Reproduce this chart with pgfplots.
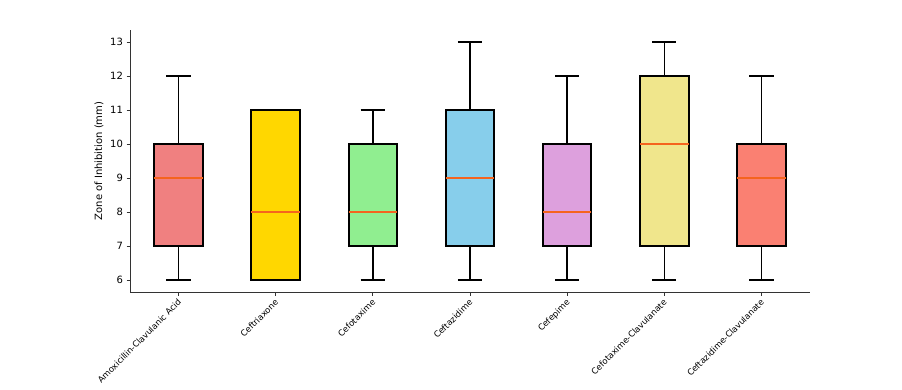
\documentclass[border=0pt]{standalone}
\usepackage{pgfplots}
\pgfplotsset{compat=1.18}
\usepgfplotslibrary{statistics}
\usepackage{fontspec}
\setmainfont{DejaVu Sans}
\definecolor{c1}{HTML}{F08080}
\definecolor{c2}{HTML}{FFD700}
\definecolor{c3}{HTML}{90EE90}
\definecolor{c4}{HTML}{87CEEB}
\definecolor{c5}{HTML}{DDA0DD}
\definecolor{c6}{HTML}{F0E68C}
\definecolor{c7}{HTML}{FA8072}
\definecolor{med}{HTML}{F5641E}
\begin{document}
\begin{tikzpicture}
\path[use as bounding box] (0pt,0pt) rectangle (902pt,389pt);
\begin{axis}[
  at={(130pt,97pt)}, anchor=south west,
  scale only axis, width=680pt, height=262pt,
  xmin=0.5, xmax=7.5, ymin=5.65, ymax=13.35,
  axis x line*=bottom, axis y line*=left,
  axis line style={black!80, line width=0.8pt},
  tick align=outside, major tick length=3.5pt,
  tick style={black!80, line width=0.8pt},
  xtick={1,2,3,4,5,6,7},
  xticklabels={Amoxicillin-Clavulanic Acid,Ceftriaxone,Cefotaxime,Ceftazidime,Cefepime,Cefotaxime-Clavulanate,Ceftazidime-Clavulanate},
  xticklabel style={rotate=45, anchor=north east, font=\fontsize{8.5}{10}\selectfont, inner sep=1pt, xshift=-2pt},
  ytick={6,7,8,9,10,11,12,13},
  yticklabel style={font=\fontsize{10}{12}\selectfont},
  /pgf/number format/assume math mode=true,
  ylabel={Zone of Inhibition (mm)},
  ylabel style={font=\fontsize{10}{12}\selectfont},
  boxplot/draw direction=y,
  boxplot/every median/.style={draw=med, line width=1.1pt},
  boxplot/every whisker/.style={line width=1.5pt},
  boxplot/every box/.style={line width=1.9pt},
]
\addplot[draw=black, fill=c1, boxplot prepared={lower whisker=6, lower quartile=7, median=9, upper quartile=10, upper whisker=12, draw position=1, box extend=0.5, whisker extend=0.25}] coordinates {};
\addplot[draw=black, fill=c2, boxplot prepared={lower whisker=6, lower quartile=6, median=8, upper quartile=11, upper whisker=11, draw position=2, box extend=0.5, whisker extend=0.25}] coordinates {};
\addplot[draw=black, fill=c3, boxplot prepared={lower whisker=6, lower quartile=7, median=8, upper quartile=10, upper whisker=11, draw position=3, box extend=0.5, whisker extend=0.25}] coordinates {};
\addplot[draw=black, fill=c4, boxplot prepared={lower whisker=6, lower quartile=7, median=9, upper quartile=11, upper whisker=13, draw position=4, box extend=0.5, whisker extend=0.25}] coordinates {};
\addplot[draw=black, fill=c5, boxplot prepared={lower whisker=6, lower quartile=7, median=8, upper quartile=10, upper whisker=12, draw position=5, box extend=0.5, whisker extend=0.25}] coordinates {};
\addplot[draw=black, fill=c6, boxplot prepared={lower whisker=6, lower quartile=7, median=10, upper quartile=12, upper whisker=13, draw position=6, box extend=0.5, whisker extend=0.25}] coordinates {};
\addplot[draw=black, fill=c7, boxplot prepared={lower whisker=6, lower quartile=7, median=9, upper quartile=10, upper whisker=12, draw position=7, box extend=0.5, whisker extend=0.25}] coordinates {};
\end{axis}
\end{tikzpicture}
\end{document}
